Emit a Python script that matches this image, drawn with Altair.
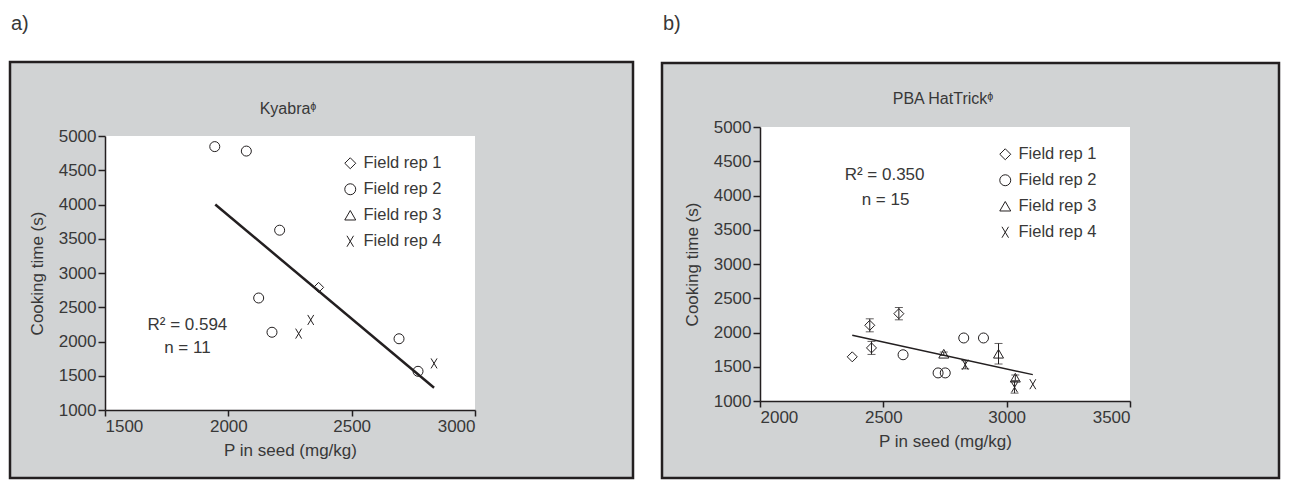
import altair as alt
import pandas as pd

# ---------------- data ----------------
REPS = ["Field rep 1", "Field rep 2", "Field rep 3", "Field rep 4"]

# a) Kyabra
a_p = [1945, 2073, 2208, 2123, 2177, 2692, 2769, 2366, 2285, 2334, 2834]
a_time = [4845, 4780, 3625, 2635, 2135, 2040, 1565, 2790, 2115, 2315, 1680]
a_rep = ["Field rep 2", "Field rep 2", "Field rep 2", "Field rep 2", "Field rep 2",
         "Field rep 2", "Field rep 2", "Field rep 1", "Field rep 4", "Field rep 4",
         "Field rep 4"]
a_fit_p = [1947, 2834]
a_fit_time = [4000, 1325]
a_ann_p = [1834, 1834]
a_ann_time = [2241, 1905]
a_ann_text = ["R\u00b2 = 0.594", "n = 11"]

# b) PBA HatTrick
b_p = [2374, 2445, 2452, 2563, 2580, 2722, 2751, 2826, 2906, 2745, 2967, 3035,
       2832, 3032, 3106]
b_time = [1645, 2105, 1775, 2275, 1675, 1410, 1410, 1920, 1920, 1690, 1690, 1340,
          1530, 1200, 1245]
b_err = [0, 95, 95, 90, 0, 0, 0, 0, 0, 25, 150, 40, 60, 85, 0]
b_rep = ["Field rep 1", "Field rep 1", "Field rep 1", "Field rep 1",
         "Field rep 2", "Field rep 2", "Field rep 2", "Field rep 2", "Field rep 2",
         "Field rep 3", "Field rep 3", "Field rep 3",
         "Field rep 4", "Field rep 4", "Field rep 4"]
b_fit_p = [2374, 3106]
b_fit_time = [1960, 1385]
b_ann_p = [2505, 2509]
b_ann_time = [4299, 3934]
b_ann_text = ["R\u00b2 = 0.350", "n = 15"]

a_xticks = [1500, 2000, 2500, 3000]
b_xticks = [2000, 2500, 3000, 3500]
yticks = [1000, 1500, 2000, 2500, 3000, 3500, 4000, 4500, 5000]

# ---------------- style ----------------
INK = "#231f20"
TXT = "#383838"
GRAY = "#d1d3d4"
FONT = "Liberation Sans"
W = 370
X_PATH = "M-0.6,-1L0.6,1M-0.6,1L0.6,-1"
SHAPES = ["diamond", "circle", "triangle-up", X_PATH]


def panel(pts, fit, ann, xdom, xticks, title, label, frame, yrange, title_y,
          legend_y, label_x, fit_width, err=None):
    top, bottom = yrange
    xs = alt.Scale(domain=xdom, nice=False, zero=False)
    ys = alt.Scale(domain=[1000, 5000], nice=False, zero=False, range=[bottom, top])
    xax = alt.Axis(values=xticks, format="d", title="P in seed (mg/kg)", zindex=1,
                   labelOverlap=False, tickCount=len(xticks))
    yax = alt.Axis(values=yticks, format="d", title="Cooking time (s)", zindex=1,
                   labelOverlap=False, tickCount=len(yticks))

    def X(f):
        return alt.X(f, scale=xs, axis=xax)

    def Y(f):
        return alt.Y(f, scale=ys, axis=yax)

    one = alt.Data(values=[{"t": title, "l": label}])

    frame_l = alt.Chart(one).mark_rect(fill=GRAY, stroke=INK, strokeWidth=2.5).encode(
        x=alt.value(frame[0]), x2=alt.value(frame[1]),
        y=alt.value(frame[2]), y2=alt.value(frame[3]))
    white_l = alt.Chart(one).mark_rect(fill="white", strokeWidth=0).encode(
        x=alt.value(0), x2=alt.value(W), y=alt.value(top), y2=alt.value(bottom))
    title_l = alt.Chart(one).mark_text(font=FONT, fontSize=16, color=TXT).encode(
        x=alt.value(W / 2 - 2), y=alt.value(title_y), text="t:N")
    label_l = alt.Chart(one).mark_text(font=FONT, fontSize=20, color=TXT,
                                       align="left").encode(
        x=alt.value(label_x), y=alt.value(-103), text="l:N")

    fit_l = alt.Chart(fit).mark_line(color=INK, strokeWidth=fit_width).encode(
        x=X("p:Q"), y=Y("t:Q"))
    ann_l = alt.Chart(ann).mark_text(font=FONT, fontSize=17, color=TXT).encode(
        x=X("p:Q"), y=Y("t:Q"), text="s:N")
    pts_l = alt.Chart(pts).mark_point(filled=False, stroke=INK, strokeWidth=1,
                                      size=100, opacity=1).encode(
        x=X("p:Q"), y=Y("t:Q"),
        shape=alt.Shape("rep:N", scale=alt.Scale(domain=REPS, range=SHAPES),
                        legend=alt.Legend(orient="none", legendX=237,
                                          legendY=legend_y,
                                          title=None, labelFont=FONT,
                                          labelFontSize=16.5, labelColor=TXT,
                                          symbolSize=120, symbolStrokeColor=INK,
                                          symbolStrokeWidth=1,
                                          symbolFillColor="transparent",
                                          rowPadding=9, labelOffset=5,
                                          padding=0)))
    layers = [frame_l, white_l, title_l, label_l, fit_l, ann_l]
    if err is not None:
        base = alt.Chart(err).transform_filter("datum.e > 0").transform_calculate(
            lo="datum.t - datum.e", hi="datum.t + datum.e")
        rule = base.mark_rule(color=INK, strokeWidth=1).encode(
            x=X("p:Q"), y=Y("lo:Q"), y2="hi:Q")
        cap_lo = base.mark_tick(color=INK, orient="horizontal", size=8,
                                thickness=1).encode(x=X("p:Q"), y=Y("lo:Q"))
        cap_hi = base.mark_tick(color=INK, orient="horizontal", size=8,
                                thickness=1).encode(x=X("p:Q"), y=Y("hi:Q"))
        layers += [rule, cap_lo, cap_hi]
    layers.append(pts_l)
    return alt.layer(*layers).properties(width=W, height=bottom)


a_pts = pd.DataFrame({"p": a_p, "t": a_time, "rep": a_rep})
a_fit = pd.DataFrame({"p": a_fit_p, "t": a_fit_time})
a_ann = pd.DataFrame({"p": a_ann_p, "t": a_ann_time, "s": a_ann_text})
b_pts = pd.DataFrame({"p": b_p, "t": b_time, "rep": b_rep})
b_fit = pd.DataFrame({"p": b_fit_p, "t": b_fit_time})
b_ann = pd.DataFrame({"p": b_ann_p, "t": b_ann_time, "s": b_ann_text})
b_errs = pd.DataFrame({"p": b_p, "t": b_time, "e": b_err})

pa = panel(a_pts, a_fit, a_ann, [1500, 3000], a_xticks, "Kyabra\u1db2", "a)",
           (-95, 528, -65, 351), (9, 283), -18, 28, -94, 2.5)
pb = panel(b_pts, b_fit, b_ann, [2000, 3500], b_xticks, "PBA HatTrick\u1db2", "b)",
           (-98, 519, -64, 351), (0, 274), -28, 19, -97, 1.5, err=b_errs)

chart = alt.hconcat(pa, pb, spacing=25).resolve_scale(
    x="independent", y="independent", shape="independent"
).resolve_legend(shape="independent").properties(
    padding={"top": 6, "left": 0, "right": 0, "bottom": 0}
).configure_view(stroke=None).configure_axis(
    domainColor=INK, domainWidth=1.5, tickColor=INK, tickWidth=1.5, tickSize=6,
    labelFont=FONT, labelFontSize=17, labelColor=TXT, labelPadding=2,
    titleFont=FONT, titleFontSize=17, titleFontWeight="normal", titleColor=TXT,
    grid=False
).configure_axisY(titlePadding=12, tickSize=7).configure_axisX(titlePadding=8)

chart.save("out.html", embed_options={"renderer": "svg", "actions": False})
